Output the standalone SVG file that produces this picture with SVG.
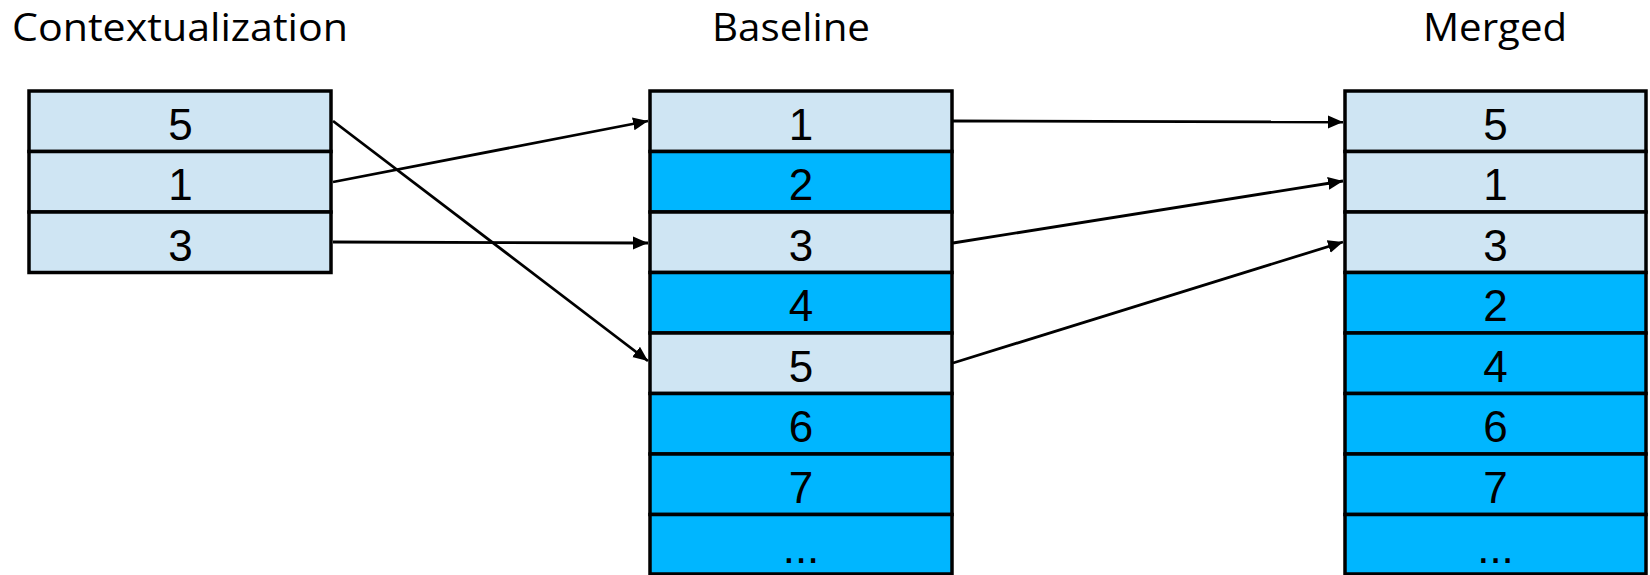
<svg xmlns="http://www.w3.org/2000/svg" width="1650" height="575" viewBox="0 0 1650 575">
<style>
.title{font-family:"Open Sans","Liberation Sans",sans-serif;font-size:38px;fill:#000}
.num{font-family:"Liberation Sans",Arial,sans-serif;font-size:44px;fill:#000;text-anchor:middle}
.lt{fill:#CFE5F3;stroke:#000;stroke-width:3.5}
.dk{fill:#00B6FF;stroke:#000;stroke-width:3.5}
.conn{stroke:#000;stroke-width:2.8;fill:none;marker-end:url(#ah)}
</style>
<defs>
<marker id="ah" markerUnits="userSpaceOnUse" markerWidth="16" markerHeight="14" refX="15" refY="6.5" orient="auto">
<path d="M0,0 L15,6.5 L0,13 z" fill="#000"/>
</marker>
</defs>
<g id="titles">
<text class="title" x="12" y="41" textLength="336" lengthAdjust="spacingAndGlyphs">Contextualization</text>
<text class="title" x="712" y="41" textLength="158" lengthAdjust="spacingAndGlyphs">Baseline</text>
<text class="title" x="1423" y="41" textLength="144" lengthAdjust="spacingAndGlyphs">Merged</text>
</g>
<g id="contextualization">
<rect class="lt" x="29" y="91" width="302" height="60.5"/>
<rect class="lt" x="29" y="151.5" width="302" height="60.5"/>
<rect class="lt" x="29" y="212" width="302" height="60.5"/>
<text class="num" x="180.5" y="139.5">5</text>
<text class="num" x="180.5" y="200">1</text>
<text class="num" x="180.5" y="260.5">3</text>
</g>
<g id="baseline">
<rect class="lt" x="650" y="91" width="302" height="60.5"/>
<rect class="dk" x="650" y="151.5" width="302" height="60.5"/>
<rect class="lt" x="650" y="212" width="302" height="60.5"/>
<rect class="dk" x="650" y="272.5" width="302" height="60.5"/>
<rect class="lt" x="650" y="333" width="302" height="60.5"/>
<rect class="dk" x="650" y="393.5" width="302" height="60.5"/>
<rect class="dk" x="650" y="454" width="302" height="60.5"/>
<rect class="dk" x="650" y="514.5" width="302" height="59.5"/>
<text class="num" x="801" y="139.5">1</text>
<text class="num" x="801" y="200">2</text>
<text class="num" x="801" y="260.5">3</text>
<text class="num" x="801" y="321">4</text>
<text class="num" x="801" y="381.5">5</text>
<text class="num" x="801" y="442">6</text>
<text class="num" x="801" y="502.5">7</text>
<text class="num" x="801" y="563">...</text>
</g>
<g id="merged">
<rect class="lt" x="1345" y="91" width="301" height="60.5"/>
<rect class="lt" x="1345" y="151.5" width="301" height="60.5"/>
<rect class="lt" x="1345" y="212" width="301" height="60.5"/>
<rect class="dk" x="1345" y="272.5" width="301" height="60.5"/>
<rect class="dk" x="1345" y="333" width="301" height="60.5"/>
<rect class="dk" x="1345" y="393.5" width="301" height="60.5"/>
<rect class="dk" x="1345" y="454" width="301" height="60.5"/>
<rect class="dk" x="1345" y="514.5" width="301" height="59.5"/>
<text class="num" x="1495.5" y="139.5">5</text>
<text class="num" x="1495.5" y="200">1</text>
<text class="num" x="1495.5" y="260.5">3</text>
<text class="num" x="1495.5" y="321">2</text>
<text class="num" x="1495.5" y="381.5">4</text>
<text class="num" x="1495.5" y="442">6</text>
<text class="num" x="1495.5" y="502.5">7</text>
<text class="num" x="1495.5" y="563">...</text>
</g>
<g id="connectors">
<line class="conn" x1="333" y1="121" x2="648" y2="361"/>
<line class="conn" x1="333" y1="182" x2="648" y2="121"/>
<line class="conn" x1="333" y1="242" x2="648" y2="243"/>
<line class="conn" x1="953" y1="121" x2="1343" y2="122"/>
<line class="conn" x1="953" y1="243" x2="1343" y2="181"/>
<line class="conn" x1="953" y1="363" x2="1343" y2="242"/>
</g>
</svg>
